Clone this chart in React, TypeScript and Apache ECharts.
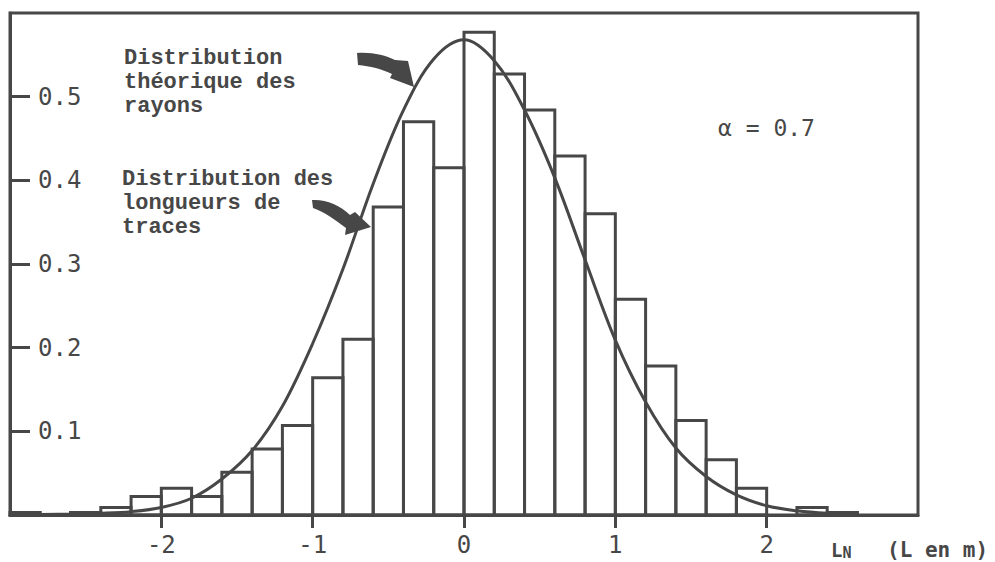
import React, { useEffect, useRef } from "react";
import * as echarts from "echarts";

// Histogram: bin edges (LN) and relative frequencies
const binEdges = [
  -3.0, -2.8, -2.6, -2.4, -2.2, -2.0, -1.8, -1.6, -1.4, -1.2, -1.0, -0.8, -0.6, -0.4, -0.2,
  0.0, 0.2, 0.4, 0.6, 0.8, 1.0, 1.2, 1.4, 1.6, 1.8, 2.0, 2.2, 2.4, 2.6,
];
const traceHeights = [
  0.003, 0.0, 0.003, 0.009, 0.022, 0.032, 0.022, 0.051, 0.079, 0.107, 0.164, 0.21, 0.368, 0.47,
  0.415, 0.577, 0.527, 0.484, 0.429, 0.36, 0.258, 0.178, 0.113, 0.066, 0.032, 0.0, 0.009, 0.003,
];

// Theoretical distribution of radii
const curveX = [
  -2.8, -2.6, -2.4, -2.2, -2.0, -1.8, -1.6, -1.4, -1.2, -1.0, -0.8, -0.6, -0.4, -0.2, 0.0, 0.2,
  0.4, 0.6, 0.8, 1.0, 1.2, 1.4, 1.6, 1.8, 2.0, 2.2, 2.4, 2.6,
];
const curveY = [
  0.0005, 0.001, 0.002, 0.004, 0.009, 0.02, 0.043, 0.077, 0.13, 0.205, 0.294, 0.396, 0.484, 0.545,
  0.568, 0.543, 0.484, 0.403, 0.305, 0.209, 0.135, 0.08, 0.046, 0.024, 0.011, 0.005, 0.002, 0.001,
];

const xTicks = [-2, -1, 0, 1, 2];
const yTicks = [0.1, 0.2, 0.3, 0.4, 0.5];

const INK = "#474747";

echarts.graphic.registerShape(
  "arrowA",
  echarts.graphic.extendPath(
    "M357,53 C372,52 385,55 395,60 L408,61 L414,87 L390,78 L392,74 C382,69 370,66 358,65 Z",
    {}
  )
);
echarts.graphic.registerShape(
  "arrowB",
  echarts.graphic.extendPath(
    "M312,200 C325,199 340,205 350,215 L355,212 L371,227 L345,235 L346,228 C335,220 325,212 313,208 Z",
    {}
  )
);

export default function App() {
  const ref = useRef<HTMLDivElement>(null);
  useEffect(() => {
    if (!ref.current) return;
    const chart = echarts.init(ref.current, undefined, { renderer: "svg" });
    const barData = traceHeights.map((h, i) => [binEdges[i], binEdges[i + 1], h]);
    const lineData = curveX.map((x, i) => [x, curveY[i]]);
    const monoFont = "'DejaVu Sans Mono', monospace";
    const annoFont = "'Liberation Mono', 'DejaVu Sans Mono', monospace";
    chart.setOption({
      animation: false,
      backgroundColor: "#ffffff",
      grid: {
        left: 10,
        right: 77,
        top: 13,
        bottom: 47,
        show: true,
        borderColor: INK,
        borderWidth: 3,
      },
      xAxis: {
        type: "value",
        min: -3,
        max: 3,
        interval: 1,
        splitLine: { show: false },
        axisLine: { show: true, onZero: false, lineStyle: { color: INK, width: 3 } },
        axisTick: {
          show: true,
          customValues: xTicks,
          length: 13,
          lineStyle: { color: INK, width: 3 },
        },
        axisLabel: {
          customValues: xTicks,
          margin: 18,
          color: INK,
          fontFamily: monoFont,
          fontSize: 24,
          formatter: (v: number) => String(v),
        },
      },
      yAxis: {
        type: "value",
        min: 0,
        max: 0.6,
        interval: 0.1,
        splitLine: { show: false },
        axisLine: { show: true, onZero: false, lineStyle: { color: INK, width: 3 } },
        axisTick: {
          show: true,
          inside: true,
          customValues: yTicks,
          length: 20,
          lineStyle: { color: INK, width: 3 },
        },
        axisLabel: {
          inside: true,
          customValues: yTicks,
          margin: 28,
          color: INK,
          fontFamily: monoFont,
          fontSize: 24,
          formatter: (v: number) => v.toFixed(1),
        },
      },
      series: [
        {
          type: "custom",
          name: "Distribution des longueurs de traces",
          data: barData,
          encode: { x: [0, 1], y: 2 },
          renderItem: (params: any, api: any) => {
            const x0 = api.value(0);
            const x1 = api.value(1);
            const h = api.value(2);
            if (!(h > 0)) return null;
            const p0 = api.coord([x0, h]);
            const p1 = api.coord([x1, 0]);
            return {
              type: "rect",
              shape: { x: p0[0], y: p0[1], width: p1[0] - p0[0], height: p1[1] - p0[1] },
              style: { fill: "none", stroke: INK, lineWidth: 3 },
            };
          },
          z: 2,
        },
        {
          type: "line",
          name: "Distribution théorique des rayons",
          data: lineData,
          smooth: 0.35,
          showSymbol: false,
          symbol: "none",
          lineStyle: { color: INK, width: 3 },
          z: 3,
        },
      ],
      graphic: [
        {
          type: "text",
          x: 124,
          y: 46,
          style: {
            text: "Distribution\nthéorique des\nrayons",
            font: "bold 22px " + annoFont,
            lineHeight: 24,
            fill: INK,
          },
        },
        {
          type: "text",
          x: 122,
          y: 167,
          style: {
            text: "Distribution des\nlongueurs de\ntraces",
            font: "bold 22px " + annoFont,
            lineHeight: 24,
            fill: INK,
          },
        },
        {
          type: "text",
          x: 718,
          y: 128,
          style: {
            text: "α = 0.7",
            font: "23px " + monoFont,
            verticalAlign: "middle",
            fill: INK,
          },
        },
        {
          type: "text",
          x: 831,
          y: 550,
          style: {
            text: "{l|L}{n|N}",
            verticalAlign: "middle",
            rich: {
              l: { font: "bold 19px " + monoFont, fill: INK, verticalAlign: "middle" },
              n: { font: "bold 15px " + monoFont, fill: INK, verticalAlign: "bottom", padding: [6, 0, 0, 0] },
            },
          },
        },
        {
          type: "text",
          x: 887,
          y: 550,
          style: {
            text: "(L en m)",
            font: "bold 21px " + monoFont,
            verticalAlign: "middle",
            fill: INK,
          },
        },
        { type: "arrowA", x: 0, y: 0, style: { fill: INK } },
        { type: "arrowB", x: 0, y: 0, style: { fill: INK } },
      ],
    });
    return () => chart.dispose();
  }, []);
  return (
    <div
      ref={ref}
      style={{ position: "fixed", left: 0, top: 0, width: 995, height: 562, background: "#fff" }}
    />
  );
}
